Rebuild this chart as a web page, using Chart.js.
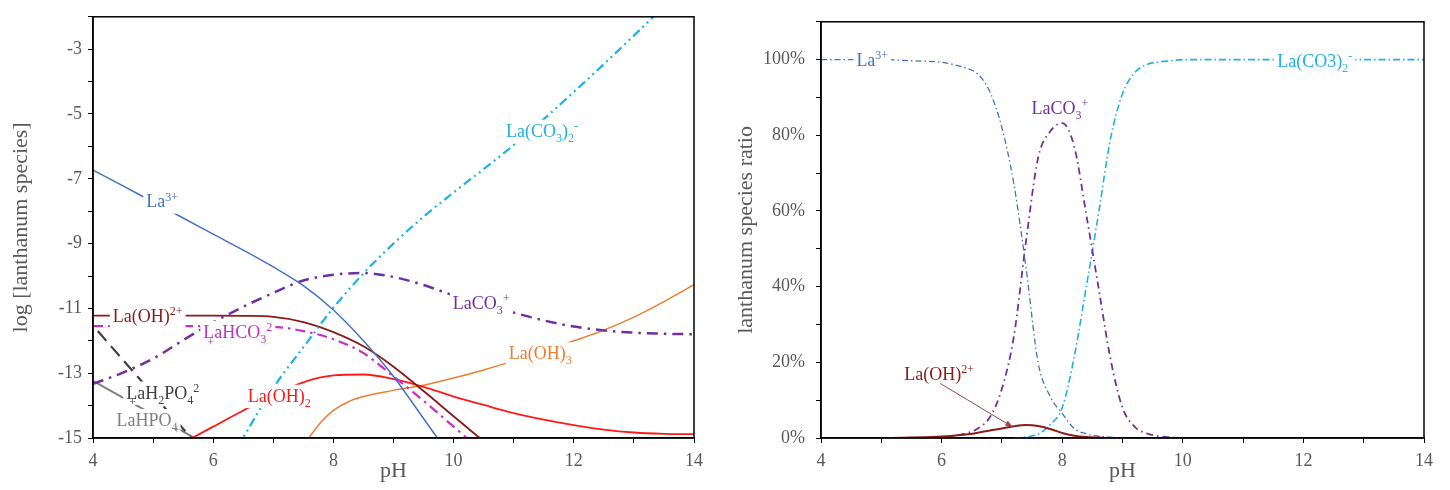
<!DOCTYPE html>
<html lang="en">
<head>
<meta charset="UTF-8">
<title>Lanthanum speciation vs pH</title>
<script src="https://cdn.jsdelivr.net/npm/chart.js"></script>
<style>
  body { margin: 0; background: #fff; width: 1450px; height: 490px; position: relative; overflow: hidden; }
  #left { position: absolute; left: 0; top: 0; }
  #right { position: absolute; left: 710px; top: 0; }
</style>
</head>
<body>
<canvas id="left" width="710" height="490"></canvas>
<canvas id="right" width="740" height="490"></canvas>
<script>
// ---- left panel: log concentration of each species ----
var phLa3 = [4, 4.5, 5, 5.5, 6, 6.5, 7, 7.5, 8, 8.5, 9, 9.5, 10];
var logLa3 = [-6.73, -7.22, -7.72, -8.21, -8.71, -9.2, -9.72, -10.3, -11.05, -12.0, -13.1, -14.4, -15.7];

var phLaCO32 = [6.4, 7, 7.5, 8, 8.5, 9, 9.5, 10, 10.5, 11, 11.5, 12, 12.5, 13, 13.5];
var logLaCO32 = [-15.3, -13.45, -12.2, -10.98, -9.92, -9.0, -8.17, -7.42, -6.7, -5.96, -5.16, -4.32, -3.46, -2.58, -1.68];

var phLaCO3 = [4, 4.5, 5, 5.5, 6, 6.5, 7, 7.5, 8, 8.5, 9, 9.5, 10, 10.5, 11, 11.5, 12, 12.5, 13, 13.5, 14];
var logLaCO3 = [-13.33, -12.98, -12.55, -11.98, -11.43, -10.95, -10.52, -10.14, -9.96, -9.91, -10.03, -10.28, -10.6, -10.88, -11.13, -11.37, -11.56, -11.68, -11.75, -11.78, -11.8];

var phLaOH = [4, 5, 6, 6.5, 7, 7.5, 8, 8.5, 9, 9.5, 10, 10.5];
var logLaOH = [-11.22, -11.22, -11.22, -11.23, -11.26, -11.42, -11.73, -12.17, -12.8, -13.55, -14.33, -15.1];

var phLaHCO3 = [4, 5, 6, 7, 7.5, 8, 8.5, 9, 9.5, 10, 10.5];
var logLaHCO3 = [-11.55, -11.55, -11.55, -11.57, -11.7, -11.95, -12.38, -13.1, -13.85, -14.65, -15.45];

var phLaOH2 = [5.6, 6, 6.5, 7, 7.5, 8, 8.5, 9, 9.5, 10, 10.5, 11, 11.5, 12, 12.5, 13, 13.5, 14];
var logLaOH2 = [-15.05, -14.65, -14.15, -13.68, -13.28, -13.07, -13.04, -13.18, -13.42, -13.72, -13.98, -14.23, -14.43, -14.6, -14.74, -14.83, -14.87, -14.88];

var phLaOH3 = [7.55, 7.8, 8, 8.25, 8.5, 9, 9.5, 10, 10.5, 11, 11.5, 12, 12.5, 13, 13.5, 14];
var logLaOH3 = [-15.1, -14.5, -14.15, -13.88, -13.72, -13.53, -13.37, -13.15, -12.9, -12.62, -12.32, -12.0, -11.67, -11.27, -10.79, -10.27];

var phLaH2PO4 = [4.08, 5.68];
var logLaH2PO4 = [-11.7, -15.1];

var phLaHPO4 = [4, 5.72];
var logLaHPO4 = [-13.24, -15.03];

// ---- right panel: species ratio (%) ----
var phRatio = [4, 5, 5.5, 6, 6.2, 6.4, 6.6, 6.8, 7, 7.2, 7.4, 7.6, 7.8, 8, 8.2, 8.4, 8.6, 8.8, 9, 9.2, 9.4, 9.6, 9.8, 10, 11, 12, 13, 14];
var ratioLa3 = [100, 100, 99.7, 99.3, 98.7, 97.8, 96.2, 91.5, 82, 67, 45, 20, 11, 6.5, 2.5, 1.1, 0.5, 0.2, 0, null, null, null, null, null, null, null, null, null];
var ratioLaCO3 = [null, null, null, 0.2, 0.6, 1.2, 2.5, 5.5, 13, 27, 52, 74, 81, 83.2, 77, 59, 40, 21, 8, 3, 1.2, 0.5, 0.2, 0, null, null, null, null];
var ratioLaCO32 = [null, null, null, null, null, null, null, null, null, 0, 0.3, 1, 3.5, 8, 21.5, 40, 59, 79, 91, 96.5, 98.7, 99.4, 99.7, 100, 100, 100, 100, 100];
var ratioLaOH = [null, 0, 0.1, 0.4, 0.6, 0.9, 1.4, 2, 2.5, 3.1, 3.45, 3.2, 2.4, 1.3, 0.6, 0.25, 0.1, 0, null, null, null, null, null, null, null, null, null, null];

var xTicksLeft = [4, 6, 8, 10, 12, 14];
var yTicksLeft = [-3, -5, -7, -9, -11, -13, -15];
var yTicksRight = [0, 20, 40, 60, 80, 100];

var FONT = '"Liberation Serif", "Times New Roman", serif';
Chart.defaults.font.family = FONT;

function pts(xs, ys) {
    return xs.map(function (x, i) { return { x: x, y: ys[i] }; });
}

function line(label, data, color, width, dash) {
    return {
        label: label,
        data: data,
        borderColor: color,
        backgroundColor: color,
        borderWidth: width,
        borderDash: dash || [],
        pointRadius: 0,
        fill: false,
        cubicInterpolationMode: 'monotone',
        spanGaps: false
    };
}

// text with sub/superscripts, white box behind it
function drawRich(ctx, item, cx, cy) {
    var size = 18, small = 12;
    var segs = [], w = 0;
    item.parts.forEach(function (p) {
        var t = Array.isArray(p) ? p[0] : p;
        var kind = Array.isArray(p) ? p[1] : '';
        var s = kind ? small : size;
        ctx.font = s + 'px ' + FONT;
        var sw = ctx.measureText(t).width;
        segs.push({ t: t, kind: kind, s: s, w: sw });
        w += sw;
    });
    var x0 = cx - w / 2, base = cy + size * 0.33;
    ctx.save();
    if (item.box !== false) {
        ctx.fillStyle = '#fff';
        ctx.fillRect(x0 - 3, cy - size * 0.62, w + 6, size * 1.3);
    }
    ctx.fillStyle = item.color;
    ctx.textBaseline = 'alphabetic';
    var x = x0;
    segs.forEach(function (sg) {
        ctx.font = sg.s + 'px ' + FONT;
        var dy = sg.kind === 'sub' ? size * 0.28 : (sg.kind === 'sup' ? -size * 0.38 : 0);
        ctx.fillText(sg.t, x, base + dy);
        x += sg.w;
    });
    if (item.plus != null) {
        ctx.font = small + 'px ' + FONT;
        ctx.fillText('+', x0 + item.plus, base + size * 0.42);
    }
    ctx.restore();
}

var speciesLabels = {
    id: 'speciesLabels',
    afterDatasetsDraw: function (chart, args, opts) {
        var ctx = chart.ctx, xs = chart.scales.x, ys = chart.scales.y;
        var a = chart.chartArea;
        // frame round the plot
        ctx.save();
        ctx.strokeStyle = '#000';
        ctx.lineWidth = 1.5;
        ctx.strokeRect(a.left, a.top, a.right - a.left, a.bottom - a.top);
        ctx.restore();

        if (opts.arrow) {
            var ar = opts.arrow;
            var x1 = xs.getPixelForValue(ar.from[0]), y1 = ys.getPixelForValue(ar.from[1]);
            var x2 = xs.getPixelForValue(ar.to[0]), y2 = ys.getPixelForValue(ar.to[1]);
            var ang = Math.atan2(y2 - y1, x2 - x1);
            ctx.save();
            ctx.strokeStyle = ar.color;
            ctx.fillStyle = ar.color;
            ctx.lineWidth = 1;
            ctx.beginPath();
            ctx.moveTo(x1, y1);
            ctx.lineTo(x2, y2);
            ctx.stroke();
            ctx.beginPath();
            ctx.moveTo(x2, y2);
            ctx.lineTo(x2 - 8 * Math.cos(ang - 0.35), y2 - 8 * Math.sin(ang - 0.35));
            ctx.lineTo(x2 - 8 * Math.cos(ang + 0.35), y2 - 8 * Math.sin(ang + 0.35));
            ctx.closePath();
            ctx.fill();
            ctx.restore();
        }
        (opts.items || []).forEach(function (it) {
            drawRich(ctx, it, xs.getPixelForValue(it.x), ys.getPixelForValue(it.y));
        });
    }
};

function axisX(ticksShown) {
    return {
        type: 'linear',
        min: 4,
        max: 14,
        ticks: {
            stepSize: 1,
            autoSkip: false,
            maxRotation: 0,
            padding: 7,
            color: '#595959',
            font: { size: 18 },
            callback: function (v) { return ticksShown.indexOf(v) >= 0 ? v : ''; }
        },
        grid: { drawOnChartArea: false, tickLength: 5, color: '#000', lineWidth: 1 },
        border: { color: '#000', width: 1.5 },
        title: { display: true, text: 'pH', color: '#595959', font: { size: 22 }, padding: { top: 0, bottom: 6 } },
        afterFit: function (s) { s.height = 52; }
    };
}

var C_BLUE = '#4472C4', C_CYAN = '#1DB3E3', C_PURPLE = '#7030A0', C_DRED = '#8B1A1A',
    C_MAG = '#C530C5', C_RED = '#FF1A1A', C_ORANGE = '#ED7D31', C_DGRAY = '#404040', C_GRAY = '#808080';

new Chart(document.getElementById('left'), {
    type: 'line',
    data: {
        datasets: [
            line('La3+', pts(phLa3, logLa3), C_BLUE, 1.5),
            line('La(CO3)2-', pts(phLaCO32, logLaCO32), C_CYAN, 2.2, [9, 4, 2, 4, 2, 4]),
            line('LaCO3+', pts(phLaCO3, logLaCO3), C_PURPLE, 2.5, [11, 6, 2.5, 6]),
            line('La(OH)2+', pts(phLaOH, logLaOH), C_DRED, 1.8),
            line('LaHCO3 2+', pts(phLaHCO3, logLaHCO3), C_MAG, 2.2, [10, 5, 2.5, 5]),
            line('La(OH)2', pts(phLaOH2, logLaOH2), C_RED, 1.8),
            line('La(OH)3', pts(phLaOH3, logLaOH3), C_ORANGE, 1.5),
            line('LaH2PO4 2+', pts(phLaH2PO4, logLaH2PO4), C_DGRAY, 2.2, [13, 7]),
            line('LaHPO4', pts(phLaHPO4, logLaHPO4), C_GRAY, 2)
        ]
    },
    options: {
        responsive: false,
        animation: false,
        layout: { padding: { top: 10, right: 15, left: 0, bottom: 0 } },
        scales: {
            x: axisX(xTicksLeft),
            y: {
                min: -15,
                max: -2,
                ticks: {
                    stepSize: 1,
                    autoSkip: false,
                    padding: 6,
                    color: '#595959',
                    font: { size: 18 },
                    callback: function (v) { return yTicksLeft.indexOf(v) >= 0 ? v : ''; }
                },
                grid: { drawOnChartArea: false, tickLength: 5, color: '#000', lineWidth: 1 },
                border: { color: '#000', width: 1.5 },
                title: { display: true, text: 'log [lanthanum species]', color: '#595959', font: { size: 22 }, padding: { top: 8, bottom: 0 } },
                afterFit: function (s) { s.width = 93; }
            }
        },
        plugins: {
            legend: { display: false },
            tooltip: { enabled: false },
            speciesLabels: {
                items: [
                    { x: 5.15, y: -7.7, color: C_BLUE, parts: ['La', ['3+', 'sup']] },
                    { x: 11.47, y: -5.52, color: C_CYAN, parts: ['La(CO', ['3', 'sub'], ')', ['2', 'sub'], ['-', 'sup']] },
                    { x: 10.46, y: -10.82, color: C_PURPLE, parts: ['LaCO', ['3', 'sub'], ['+', 'sup']] },
                    { x: 4.91, y: -11.24, color: C_DRED, parts: ['La(OH)', ['2+', 'sup']] },
                    { x: 6.41, y: -11.73, color: C_MAG, parts: ['LaHCO', ['3', 'sub'], ['2', 'sup']], plus: 4 },
                    { x: 5.16, y: -13.6, color: C_DGRAY, parts: ['LaH', ['2', 'sub'], 'PO', ['4', 'sub'], ['2', 'sup']], plus: 3 },
                    { x: 4.9, y: -14.45, color: C_GRAY, parts: ['LaHPO', ['4', 'sub']], plus: 57 },
                    { x: 7.1, y: -13.7, color: C_RED, parts: ['La(OH)', ['2', 'sub']] },
                    { x: 11.44, y: -12.39, color: C_ORANGE, parts: ['La(OH)', ['3', 'sub']] }
                ]
            }
        }
    },
    plugins: [speciesLabels]
});

new Chart(document.getElementById('right'), {
    type: 'line',
    data: {
        datasets: [
            line('La(OH)2+', pts(phRatio, ratioLaOH), C_DRED, 2),
            line('La3+', pts(phRatio, ratioLa3), C_BLUE, 1.3, [6, 3, 1.5, 3]),
            line('LaCO3+', pts(phRatio, ratioLaCO3), C_PURPLE, 1.8, [7, 4, 1.5, 4]),
            line('La(CO3)2-', pts(phRatio, ratioLaCO32), C_CYAN, 1.6, [7, 3, 1.5, 3])
        ]
    },
    options: {
        responsive: false,
        animation: false,
        layout: { padding: { top: 10, right: 26, left: 0, bottom: 0 } },
        scales: {
            x: axisX(xTicksLeft),
            y: {
                min: 0,
                max: 110,
                ticks: {
                    stepSize: 10,
                    autoSkip: false,
                    padding: 11,
                    color: '#595959',
                    font: { size: 18 },
                    callback: function (v) { return yTicksRight.indexOf(v) >= 0 ? v + '%' : ''; }
                },
                grid: { drawOnChartArea: false, tickLength: 5, color: '#000', lineWidth: 1 },
                border: { color: '#000', width: 1.5 },
                title: { display: true, text: 'lanthanum species ratio', color: '#595959', font: { size: 22 }, padding: { top: 23, bottom: 0 } },
                afterFit: function (s) { s.width = 111; }
            }
        },
        plugins: {
            legend: { display: false },
            tooltip: { enabled: false },
            speciesLabels: {
                arrow: { from: [5.98, 14.4], to: [7.18, 2.9], color: '#A04040' },
                items: [
                    { x: 4.85, y: 100, color: C_BLUE, parts: ['La', ['3+', 'sup']] },
                    { x: 7.96, y: 87.2, color: C_PURPLE, parts: ['LaCO', ['3', 'sub'], ['+', 'sup']] },
                    { x: 12.19, y: 99.6, color: C_CYAN, parts: ['La(CO3)', ['2', 'sub'], ['-', 'sup']] },
                    { x: 5.96, y: 16.9, color: C_DRED, parts: ['La(OH)', ['2+', 'sup']], box: false }
                ]
            }
        }
    },
    plugins: [speciesLabels]
});
</script>
</body>
</html>
